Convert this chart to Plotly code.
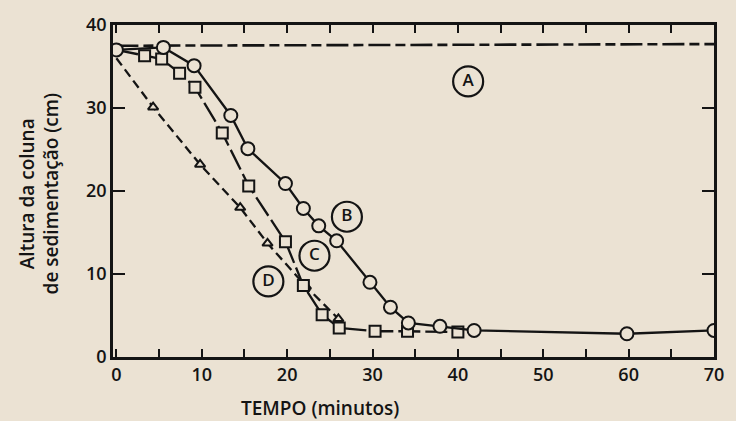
import plotly.graph_objects as go

# ---- data ----
a_time = [0, 70]
a_height = [37.5, 37.7]

b_time = [0, 5.5, 9.1, 13.4, 15.4, 19.8, 21.9, 23.7, 25.8, 29.7, 32.1, 34.2, 37.9, 41.9, 59.8, 70]
b_height = [37.0, 37.3, 35.1, 29.1, 25.1, 20.9, 17.9, 15.8, 14.0, 9.0, 6.0, 4.1, 3.7, 3.2, 2.8, 3.2]

c_time = [0, 3.3, 5.3, 7.4, 9.2, 12.4, 15.5, 19.8, 21.9, 24.1, 26.1, 30.3, 34.1, 40.0]
c_height = [37.0, 36.3, 35.9, 34.2, 32.5, 27.0, 20.6, 13.9, 8.6, 5.1, 3.5, 3.1, 3.1, 3.0]

d_time = [0, 4.3, 9.8, 14.5, 17.7, 22.2, 26.0]
d_height = [36.0, 30.1, 23.2, 18.0, 13.7, 8.5, 4.6]

label_text = ["A", "B", "C", "D"]
label_time = [41.2, 27.0, 23.2, 17.8]
label_height = [33.2, 16.9, 12.2, 9.1]

x_tick_vals = list(range(0, 71, 5))
x_tick_text = [str(v) if v % 10 == 0 else "" for v in x_tick_vals]
y_tick_vals = [0, 10, 20, 30, 40]

BG = "#ebe2d3"
INK = "#141414"
FONT = "Open Sans"
WEIGHT = 600

fig = go.Figure()

fig.add_trace(go.Scatter(
    x=a_time, y=a_height, mode="lines",
    line=dict(color=INK, width=2.6, dash="22px,5px,10px,5px"),
    showlegend=False, hoverinfo="skip"))

fig.add_trace(go.Scatter(
    x=d_time, y=d_height, mode="lines+markers",
    line=dict(color=INK, width=2.3, dash="9px,5px"),
    marker=dict(symbol="triangle-up", size=[0] + [9] * (len(d_time) - 1), opacity=1,
                color=BG, line=dict(color=INK, width=2)),
    showlegend=False, hoverinfo="skip"))

fig.add_trace(go.Scatter(
    x=c_time, y=c_height, mode="lines+markers",
    line=dict(color=INK, width=2.3, dash="22px,5px"),
    marker=dict(symbol="square", size=[0] + [11] * (len(c_time) - 1), opacity=1,
                color=BG, line=dict(color=INK, width=2)),
    showlegend=False, hoverinfo="skip"))

fig.add_trace(go.Scatter(
    x=b_time, y=b_height, mode="lines+markers",
    line=dict(color=INK, width=2.3),
    marker=dict(symbol="circle", size=13, opacity=1, color=BG,
                line=dict(color=INK, width=2)),
    showlegend=False, hoverinfo="skip"))

fig.add_trace(go.Scatter(
    x=label_time, y=label_height, mode="markers+text",
    text=label_text, textposition="middle center",
    textfont=dict(family=FONT, size=17, color=INK, weight=WEIGHT),
    marker=dict(symbol="circle", size=30, color=BG, opacity=1,
                line=dict(color=INK, width=2.2)),
    showlegend=False, hoverinfo="skip"))

axis_common = dict(
    showgrid=False, zeroline=False, showline=True, mirror="allticks",
    linecolor=INK, linewidth=2.6, ticks="inside", tickcolor=INK, tickwidth=2,
    tickfont=dict(family=FONT, size=18, color=INK, weight=WEIGHT),
)

fig.update_layout(
    width=736, height=421,
    margin=dict(l=113, r=14, t=24, b=64),
    paper_bgcolor=BG, plot_bgcolor=BG,
    xaxis=dict(range=[-0.4, 70], tickmode="array", tickvals=x_tick_vals, ticktext=x_tick_text,
               ticklen=8, **axis_common),
    yaxis=dict(range=[0, 40], tickmode="array", tickvals=y_tick_vals, ticklen=12,
               **axis_common),
    annotations=[
        dict(text="TEMPO (minutos)", xref="paper", yref="paper",
             x=0.345, y=-0.155, xanchor="center", yanchor="middle", showarrow=False,
             font=dict(family=FONT, size=19, color=INK, weight=WEIGHT)),
        dict(text="Altura da coluna<br>de sedimentação (cm)", xref="paper", yref="paper",
             x=-0.123, y=0.49, xanchor="center", yanchor="middle", showarrow=False,
             textangle=-90, font=dict(family=FONT, size=19, color=INK, weight=WEIGHT)),
    ],
)

fig.write_html("out.html", config={"displayModeBar": False},
               post_script="document.body.style.margin='0';")
